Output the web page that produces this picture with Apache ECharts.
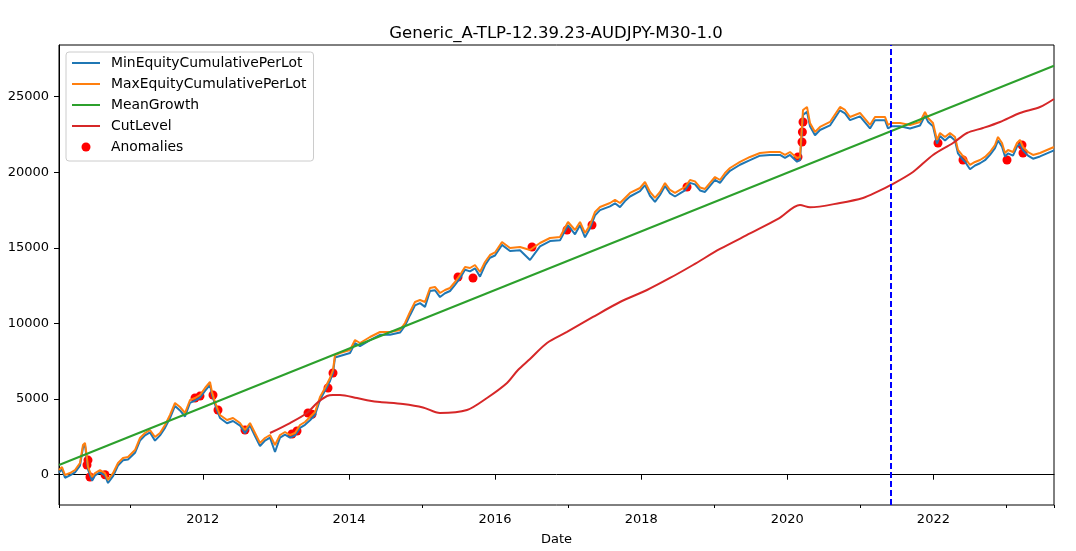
<!DOCTYPE html>
<html>
<head>
<meta charset="utf-8">
<script src="https://cdn.jsdelivr.net/npm/echarts@6/dist/echarts.min.js"></script>
<style>
  html, body { margin: 0; padding: 0; background: #fff; }
  #main { width: 1076px; height: 551px; }
</style>
</head>
<body>
<div id="main"></div>
<script type="text/javascript">
// equity curve samples
var dates = [
  '2010-01-12','2010-01-27','2010-02-11','2010-03-08','2010-04-02','2010-04-27','2010-05-12','2010-05-22','2010-06-01','2010-06-06',
  '2010-06-26','2010-07-11','2010-08-05','2010-08-30','2010-09-14','2010-10-09','2010-11-03','2010-11-28','2010-12-23','2011-01-27',
  '2011-02-21','2011-03-18','2011-04-12','2011-05-07','2011-06-01','2011-06-26','2011-07-21','2011-08-15','2011-09-09','2011-10-04',
  '2011-10-29','2011-11-23','2011-12-18','2012-01-12','2012-02-06','2012-02-16','2012-03-02','2012-03-17','2012-03-27','2012-05-01',
  '2012-05-31','2012-07-05','2012-07-30','2012-08-24','2012-09-18','2012-10-13','2012-11-07','2012-12-02','2012-12-27','2013-01-21',
  '2013-02-15','2013-03-12','2013-04-06','2013-05-01','2013-05-26','2013-06-20','2013-07-15','2013-08-09','2013-09-03','2013-09-28',
  '2013-10-13','2013-10-23','2013-11-17','2014-01-06','2014-01-31','2014-02-25','2014-03-22','2014-04-16','2014-06-05','2014-07-25',
  '2014-09-13','2014-10-08','2014-11-02','2014-11-27','2014-12-22','2015-01-16','2015-02-10','2015-03-07','2015-04-01','2015-04-26',
  '2015-05-21','2015-06-15','2015-07-10','2015-08-04','2015-08-29','2015-09-23','2015-10-18','2015-11-12','2015-12-07','2016-01-01',
  '2016-02-05','2016-03-16','2016-05-05','2016-06-24','2016-08-13','2016-10-02','2016-11-21','2016-12-31','2017-02-04','2017-03-01',
  '2017-03-26','2017-04-20','2017-05-15','2017-06-09','2017-07-29','2017-08-23','2017-09-17','2017-10-12','2017-11-06','2017-12-26',
  '2018-01-20','2018-02-14','2018-03-11','2018-04-05','2018-04-30','2018-05-25','2018-06-19','2018-07-14','2018-08-08','2018-09-02',
  '2018-09-27','2018-10-22','2018-11-16','2018-12-11','2019-01-05','2019-01-30','2019-02-24','2019-03-21','2019-05-10','2019-06-29',
  '2019-08-18','2019-10-07','2019-11-26','2019-12-21','2020-01-15','2020-02-19','2020-03-05','2020-03-20','2020-04-09','2020-04-24',
  '2020-05-19','2020-06-13','2020-08-02','2020-09-21','2020-10-16','2020-11-10','2020-12-30','2021-02-18','2021-03-15','2021-05-04',
  '2021-05-19','2021-06-08','2021-07-18','2021-09-06','2021-10-26','2021-11-20','2021-12-05','2021-12-30','2022-01-19','2022-02-03',
  '2022-02-28','2022-03-25','2022-04-19','2022-05-04','2022-05-24','2022-06-08','2022-07-03','2022-07-28','2022-08-22','2022-09-16',
  '2022-10-11','2022-11-05','2022-11-20','2022-12-10','2022-12-25','2023-01-09','2023-02-03','2023-02-23','2023-03-10','2023-03-25',
  '2023-04-19','2023-05-14','2023-06-18','2023-07-23','2023-08-27'
];
var maxEquity = [
  311,510,-20,110,311,774,1964,2097,1104,510,
  -150,110,311,110,-350,100,774,1104,1170,1633,
  2427,2758,2957,2493,2758,3287,3948,4742,4478,4081,
  4941,5073,5272,5735,6131,5470,4808,4279,3948,3617,
  3750,3419,2956,3419,2758,2097,2427,2625,1964,2625,
  2824,2625,2758,3287,3485,3816,4147,5139,5735,6396,
  6925,7917,8050,8248,8909,8711,8909,9108,9439,9439,
  9571,10034,10761,11423,11555,11423,12349,12415,12018,12216,
  12349,12746,13209,13738,13672,13870,13407,14068,14531,14700,
  15391,14994,15060,14862,15325,15656,15722,16714,16185,16714,
  15987,16516,17376,17707,17971,18170,17971,18302,18633,18963,
  19360,18699,18302,18699,19294,18831,18633,18831,19029,19492,
  19400,19000,18900,19294,19690,19492,19955,20286,20683,21014,
  21278,21344,21344,21146,21344,20948,21014,24123,24321,23263,
  22668,22998,23329,24321,24123,23660,23924,23131,23660,23660,
  23131,23263,23263,23131,23329,23990,23594,23263,22139,22601,
  22337,22601,22337,21477,21146,20948,20485,20683,20815,21014,
  21344,21807,22337,21940,21278,21477,21344,21940,22139,21675,
  21344,21146,21278,21477,21675
];
var minEquity = [
  150,350,-200,-50,150,600,1800,1950,950,350,
  -400,-50,150,-50,-550,-100,600,950,1000,1450,
  2250,2600,2800,2250,2600,3100,3750,4550,4250,3850,
  4750,4900,5100,5550,5950,5300,4650,4100,3750,3400,
  3550,3250,2750,3250,2550,1900,2250,2450,1500,2450,
  2650,2450,2600,3100,3300,3600,3950,4950,5550,6200,
  6750,7750,7850,8050,8700,8500,8700,8900,9250,9250,
  9400,9850,10550,11200,11350,11100,12150,12200,11750,12000,
  12150,12550,13000,13550,13450,13650,13100,13850,14350,14500,
  15200,14800,14850,14200,15100,15450,15500,16500,15900,16500,
  15700,16300,17150,17500,17750,17950,17700,18100,18400,18750,
  19150,18450,18050,18500,19100,18600,18400,18600,18800,19300,
  19200,18800,18700,19100,19500,19300,19750,20100,20500,20800,
  21100,21150,21150,20950,21150,20700,20800,23800,24000,23050,
  22450,22800,23100,24100,23900,23450,23700,22900,23450,23450,
  22900,23050,23050,22900,23100,23750,23350,23050,21900,22400,
  22100,22400,22100,21250,20900,20700,20200,20450,20600,20800,
  21150,21600,22100,21700,21050,21250,21100,21700,21900,21450,
  21100,20900,21050,21250,21450
];

// straight mean growth line
var growthDates = ['2010-01-12', '2023-08-27'];
var meanGrowth = [640, 27050];

// cut level curve
var cutDates = [
  '2012-12-02','2013-03-12','2013-06-05','2013-07-25','2013-09-13','2013-10-13','2013-11-17','2014-02-10','2014-04-16','2014-06-05',
  '2014-09-28','2015-01-06','2015-04-01','2015-08-14','2015-11-22','2016-03-01','2016-04-25','2016-06-24','2016-09-17','2016-12-26',
  '2017-05-05','2017-09-17','2018-01-30','2018-05-25','2018-09-17','2019-01-30','2019-06-29','2019-11-16','2020-03-05','2020-04-24',
  '2020-09-21','2021-01-14','2021-03-25','2021-06-03','2021-09-21','2021-12-30','2022-04-09','2022-06-18','2022-09-06','2022-11-30',
  '2023-03-10','2023-06-18','2023-08-27'
];
var cutLevel = [
  2758,3419,4081,4742,5206,5278,5278,5073,4894,4809,
  4676,4450,4081,4279,5073,6065,6925,7650,8711,9439,
  10431,11423,12216,13010,13870,14928,15955,16913,17839,17685,
  17971,18300,18700,19162,20022,21146,21940,22601,22932,23329,
  23924,24321,24850
];

// anomaly points
var anomalyDates = [
  '2010-06-01','2010-06-06','2010-06-16','2010-08-30','2011-11-23','2011-12-18','2012-02-21','2012-03-17','2012-07-30','2013-03-22',
  '2013-04-16','2013-06-10','2013-06-30','2013-09-18','2013-10-13','2015-06-30','2015-09-13','2016-07-04','2016-12-26','2017-04-30',
  '2018-08-18','2020-02-24','2020-03-15','2020-03-17','2020-03-20','2022-01-24','2022-05-29','2023-01-04','2023-03-20','2023-03-25'
];
var anomalyValues = [
  641,964,-150,0,5073,5200,5272,4279,2957,2692,
  2890,4081,4000,5735,6727,13077,13010,15060,16185,16516,
  19029,21014,22006,22668,23329,21940,20815,20815,21807,21278
];

var splitDate = '2021-06-02';
var xMin = '2010-01-12', xMax = '2023-08-27';
var yMin = -2004, yMax = 28420;
var yTicks = [0, 5000, 10000, 15000, 20000, 25000];
var majorYears = [2012, 2014, 2016, 2018, 2020, 2022];
var minorYears = [2011, 2013, 2015, 2017, 2019, 2021, 2023];

function ts(s) {
  var p = s.split('-');
  return new Date(+p[0], +p[1] - 1, +p[2]).getTime();
}
function pairs(xs, ys) {
  return xs.map(function (d, i) { return [ts(d), ys[i]]; });
}

var FONT = 'DejaVu Sans';
var LINE_ICON = 'path://M0,0 L28,0 L28,2 L0,2 Z';
var majorTicks = majorYears.map(function (y) { return new Date(y, 0, 1).getTime(); });
var minorTicks = [ts(xMin)].concat(minorYears.map(function (y) { return new Date(y, 0, 1).getTime(); }), [ts(xMax)]);

var chart = echarts.init(document.getElementById('main'));

var option = {
  animation: false,
  backgroundColor: '#fff',
  title: {
    text: 'Generic_A-TLP-12.39.23-AUDJPY-M30-1.0',
    left: 551, top: 20, textAlign: 'center',
    textStyle: { fontFamily: FONT, fontSize: 16.5, fontWeight: 'normal', color: '#000' }
  },
  legend: {
    left: 66, top: 52, orient: 'vertical',
    padding: [4, 7, 7, 6],
    itemWidth: 28, itemHeight: 9, itemGap: 7,
    borderColor: '#cccccc', borderWidth: 1, borderRadius: 3,
    backgroundColor: 'rgba(255,255,255,0.8)',
    textStyle: { fontFamily: FONT, fontSize: 13.9, color: '#000', lineHeight: 14, padding: [0, 0, 0, 6] },
    data: [
      { name: 'MinEquityCumulativePerLot', icon: LINE_ICON },
      { name: 'MaxEquityCumulativePerLot', icon: LINE_ICON },
      { name: 'MeanGrowth', icon: LINE_ICON },
      { name: 'CutLevel', icon: LINE_ICON },
      { name: 'Anomalies', icon: 'circle' }
    ]
  },
  grid: {
    left: 59, right: 22, top: 45, bottom: 46,
    show: true, borderColor: '#000', borderWidth: 1, backgroundColor: 'transparent'
  },
  xAxis: [{
    type: 'value', min: ts(xMin), max: ts(xMax), position: 'bottom', scale: true,
    axisLine: { show: true, lineStyle: { color: '#000', width: 1 } },
    axisTick: { show: true, length: 5, lineStyle: { color: '#000' }, customValues: majorTicks },
    axisLabel: {
      customValues: majorTicks, color: '#000', fontFamily: FONT, fontSize: 13, margin: 8,
      formatter: function (v) { return String(new Date(v).getFullYear()); }
    },
    splitLine: { show: false },
    name: 'Date', nameLocation: 'middle', nameGap: 28,
    nameTextStyle: { fontFamily: FONT, fontSize: 13, color: '#000' }
  }, {
    type: 'value', min: ts(xMin), max: ts(xMax), position: 'bottom', scale: true,
    axisLine: { show: false },
    axisTick: { show: true, length: 3, lineStyle: { color: '#000' }, customValues: minorTicks },
    axisLabel: { show: false, customValues: minorTicks },
    splitLine: { show: false }
  }],
  yAxis: {
    type: 'value', min: yMin, max: yMax,
    axisLine: { show: true, lineStyle: { color: '#000', width: 1 } },
    axisTick: { show: true, length: 5, lineStyle: { color: '#000' }, customValues: yTicks },
    axisLabel: {
      customValues: yTicks, color: '#000', fontFamily: FONT, fontSize: 13, margin: 10,
      formatter: function (v) { return String(v); }
    },
    splitLine: { show: false }
  },
  series: [{
    name: 'MinEquityCumulativePerLot', type: 'line', symbol: 'none',
    color: '#1f77b4', lineStyle: { width: 2 },
    data: pairs(dates, minEquity)
  }, {
    name: 'MaxEquityCumulativePerLot', type: 'line', symbol: 'none',
    color: '#ff7f0e', lineStyle: { width: 2 },
    data: pairs(dates, maxEquity)
  }, {
    name: 'MeanGrowth', type: 'line', symbol: 'none',
    color: '#2ca02c', lineStyle: { width: 2 },
    data: pairs(growthDates, meanGrowth)
  }, {
    name: 'CutLevel', type: 'line', symbol: 'none', smooth: 0.3,
    color: '#d62728', lineStyle: { width: 2 },
    data: pairs(cutDates, cutLevel)
  }, {
    name: 'Anomalies', type: 'scatter', symbol: 'circle', symbolSize: 9,
    color: '#ff0000', itemStyle: { opacity: 1 },
    data: pairs(anomalyDates, anomalyValues),
    markLine: {
      silent: true, symbol: ['none', 'none'], label: { show: false },
      lineStyle: { color: '#0000ff', type: [6, 3], width: 2 },
      data: [{ xAxis: ts(splitDate) }]
    }
  }]
};

chart.setOption(option);
</script>
</body>
</html>
